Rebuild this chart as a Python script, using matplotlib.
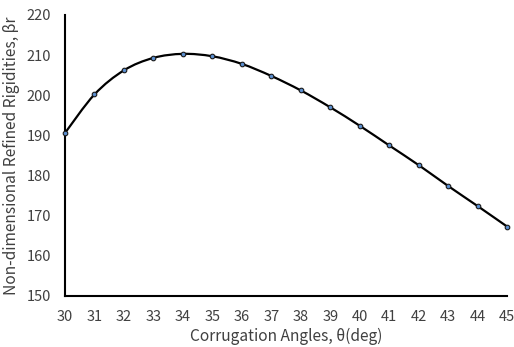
import matplotlib
matplotlib.use('Agg')
import matplotlib.pyplot as plt
from matplotlib.path import Path
from matplotlib.patches import PathPatch

plt.rcParams['font.family'] = ['Noto Sans CJK KR', 'DejaVu Sans']

angles = [30, 31, 32, 33, 34, 35, 36, 37, 38, 39, 40, 41, 42, 43, 44, 45]
rigidity = [190.6, 200.2, 206.2, 209.3, 210.3, 209.7, 207.8, 204.8, 201.2,
            197.0, 192.4, 187.5, 182.6, 177.4, 172.4, 167.3]

text_color = '#404040'

fig = plt.figure(figsize=(5.14, 3.47), dpi=100)
ax = fig.add_axes([0.1265, 0.147, 0.86, 0.81])

# smoothed line like a spreadsheet "smooth line" (Catmull-Rom as bezier)
verts = [(angles[0], rigidity[0])]
codes = [Path.MOVETO]
n = len(angles)
for i in range(n - 1):
    x0, y0 = angles[max(i - 1, 0)], rigidity[max(i - 1, 0)]
    x1, y1 = angles[i], rigidity[i]
    x2, y2 = angles[i + 1], rigidity[i + 1]
    x3, y3 = angles[min(i + 2, n - 1)], rigidity[min(i + 2, n - 1)]
    c1 = (x1 + (x2 - x0) / 6, y1 + (y2 - y0) / 6)
    c2 = (x2 - (x3 - x1) / 6, y2 - (y3 - y1) / 6)
    verts += [c1, c2, (x2, y2)]
    codes += [Path.CURVE4] * 3
ax.add_patch(PathPatch(Path(verts, codes), facecolor='none',
                       edgecolor='black', linewidth=1.6, zorder=2,
                       clip_on=False))

ax.plot(angles, rigidity, linestyle='none', marker='o', markersize=3.3,
        markerfacecolor='#5b8fd0', markeredgecolor='#1a1a1a',
        markeredgewidth=0.8, zorder=3, clip_on=False)

ax.set_xlim(30, 45)
ax.set_ylim(150, 220)
ax.set_xticks(range(30, 46))
ax.set_yticks(range(150, 221, 10))

for side in ['top', 'right']:
    ax.spines[side].set_visible(False)
for side in ['left', 'bottom']:
    ax.spines[side].set_linewidth(1.5)
    ax.spines[side].set_color('black')

ax.tick_params(axis='both', length=0, labelsize=10.5, labelcolor=text_color)
ax.tick_params(axis='x', pad=10)
ax.tick_params(axis='y', pad=10)

ax.set_xlabel('Corrugation Angles, θ(deg)', fontsize=11.2, color=text_color, labelpad=3)
ax.set_ylabel('Non-dimensional Refined Rigidities, βr', fontsize=11.2,
              color=text_color, labelpad=5)

fig.savefig('out.png', dpi=100)
